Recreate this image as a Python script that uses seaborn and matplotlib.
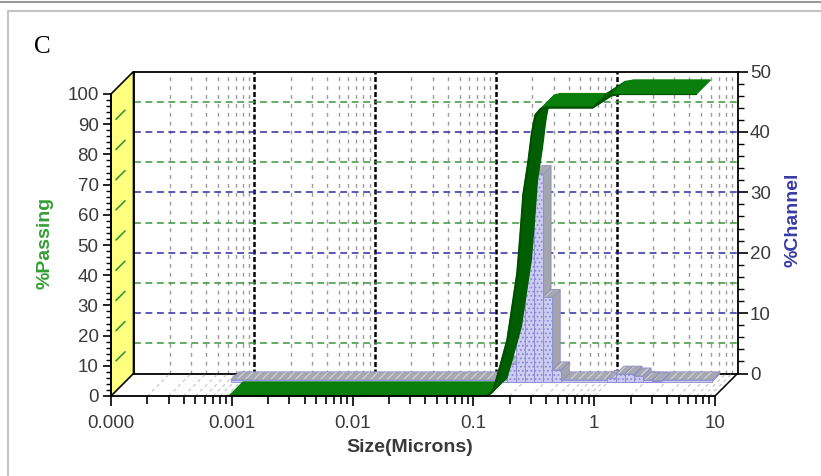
import matplotlib

matplotlib.use("Agg")

import numpy as np
import seaborn as sns
from matplotlib import pyplot as plt
from matplotlib.lines import Line2D
from matplotlib.patches import Polygon
from matplotlib.ticker import FixedFormatter, FixedLocator, MultipleLocator, NullFormatter
from matplotlib.transforms import IdentityTransform

# cumulative % passing (front edge of the green ribbon)
passing_size = [0.00095, 0.130, 0.145, 0.161, 0.191, 0.210, 0.231, 0.245, 0.259,
                0.285, 0.305, 0.326, 0.360, 0.400, 0.97, 1.16, 1.38, 1.64, 7.0]
passing_pct = [0.0, 0.0, 1.5, 7.6, 18.5, 29.5, 40.7, 53.3, 66.6,
               77.5, 87.0, 93.0, 95.0, 95.5, 95.5, 97.5, 99.5, 100.0, 100.0]

# % channel histogram, channel edges in microns
channel_lo = [0.145, 0.172, 0.204, 0.243, 0.289, 0.344, 0.972, 1.156, 1.375, 1.635, 1.945, 2.312]
channel_hi = [0.172, 0.204, 0.243, 0.289, 0.344, 0.409, 1.156, 1.375, 1.635, 1.945, 2.312, 2.750]
channel_pct = [3.0, 12.0, 30.0, 34.5, 14.0, 2.0, 0.6, 1.3, 1.3, 1.0, 0.3, 0.2]
channel_span = [0.00075, 7.2]  # empty channels lying on the floor

x_ticks = [1e-4, 1e-3, 1e-2, 1e-1, 1, 10]
x_tick_labels = ["0.000", "0.001", "0.01", "0.1", "1", "10"]
passing_grid = [10, 30, 50, 70, 90]
channel_grid = [10, 20, 30, 40]

W, H = 821, 476
DEPTH = 22.5          # pixel offset of the back wall
RIBBON_DEPTH = 14     # thickness of the cumulative ribbon
BAR_DEPTH = (14, 22)  # front / back of the histogram bars

GREEN = "#0A7E0A"
GREEN_DARK = "#005E00"
TEXT = "#3A3A3A"

sns.set_theme(style="white")
plt.rcParams["font.family"] = ["Liberation Sans", "DejaVu Sans"]
plt.rcParams["hatch.linewidth"] = 0.8

fig = plt.figure(figsize=(W / 100, H / 100), dpi=100)
fig.patch.set_facecolor("white")

box = [111 / W, (H - 396) / H, 604 / W, 302 / H]
ax_back = fig.add_axes([box[0] + DEPTH / W, box[1] + DEPTH / H, box[2], box[3]])
ax = fig.add_axes(box)
ax.set_zorder(2)
ax.patch.set_alpha(0)

for a in (ax, ax_back):
    a.set_xscale("log")
    a.set_xlim(x_ticks[0], x_ticks[-1])
ax.set_ylim(0, 100)
ax_back.set_ylim(0, 50)

minor_x = [m * d for d in x_ticks[:-1] for m in range(2, 10)]

# back wall grid
for x in x_ticks[1:-1]:
    ax_back.axvline(x, color="black", lw=1.8, ls=(0, (2.0, 1.0)), zorder=1)
for x in minor_x:
    ax_back.axvline(x, color="#9C9C9C", lw=1.0, ls=(0, (2.8, 3.6)), zorder=0.5)
for p in passing_grid:
    ax_back.axhline(p * 50 / 100, color="#3A963A", lw=1.1, ls=(0, (4.5, 3)), zorder=1)
for c in channel_grid:
    ax_back.axhline(c, color="#2C2CA0", lw=1.1, ls=(0, (4.5, 3)), zorder=1)

for side in ("top", "bottom", "left", "right"):
    ax_back.spines[side].set_visible(True)
    ax_back.spines[side].set_color("black")
    ax_back.spines[side].set_linewidth(1.3)
ax_back.yaxis.tick_right()
ax_back.yaxis.set_major_locator(MultipleLocator(10))
ax_back.yaxis.set_minor_locator(MultipleLocator(2))
ax_back.tick_params(axis="y", which="major", right=True, left=False, labelright=True,
                    labelleft=False, length=7, width=1.2, color="black",
                    labelsize=13.5, labelcolor=TEXT, pad=2)
ax_back.tick_params(axis="y", which="minor", right=True, left=False, length=4, width=1, color="black")
ax_back.tick_params(axis="x", which="both", bottom=False, labelbottom=False)
ax_back.grid(False)


def project(axis, xs, ys, shift):
    """Data points of an axis -> display pixels, pushed back by `shift` px."""
    pts = axis.transData.transform(np.column_stack([xs, ys]))
    return pts + shift


def face(pts, **kw):
    ax.add_patch(Polygon(pts, closed=True, transform=IdentityTransform(), clip_on=False, **kw))


def seg(p0, p1, **kw):
    ax.add_line(Line2D([p0[0], p1[0]], [p0[1], p1[1]], transform=IdentityTransform(),
                       clip_on=False, **kw))


# yellow side wall
x0 = x_ticks[0]
wf = project(ax, [x0, x0], [0, 100], 0)
wb = project(ax, [x0, x0], [0, 100], DEPTH)
face([wf[0], wf[1], wb[1], wb[0]], facecolor="#FFFF80", edgecolor="black", lw=1.2, zorder=1)
for p in range(10, 100, 10):
    seg(project(ax, [x0], [p], 5)[0], project(ax, [x0], [p], 14)[0],
        color="#3A963A", lw=1.2, zorder=1.2)

# floor depth lines and right edge
for x in minor_x + x_ticks[1:-1]:
    seg(project(ax, [x], [0], 0)[0], project(ax, [x], [0], DEPTH)[0],
        color="#C4C4C4", lw=0.8, ls=(0, (3, 3)), zorder=1.1)
seg(project(ax, [x_ticks[-1]], [0], 0)[0], project(ax, [x_ticks[-1]], [0], DEPTH)[0],
    color="black", lw=1.1, zorder=1.2)


def bar3d(lo, hi, h, zorder):
    d0, d1 = BAR_DEPTH[0] - DEPTH, BAR_DEPTH[1] - DEPTH
    fr = project(ax_back, [lo, hi, hi, lo], [0, 0, h, h], d0)
    bk = project(ax_back, [lo, hi, hi, lo], [0, 0, h, h], d1)
    face([fr[1], bk[1], bk[2], fr[2]], facecolor="#A4A4AE", edgecolor="#8C8CC4", lw=0.6, zorder=zorder)
    face([fr[3], fr[2], bk[2], bk[3]], facecolor="#A8A8B0", edgecolor="#D4D4DC", hatch="////",
         lw=0, zorder=zorder)
    face([fr[3], fr[2], bk[2], bk[3]], facecolor="none", edgecolor="#8C8CC4", lw=0.6, zorder=zorder)
    face(fr, facecolor="#CDCDF2", edgecolor="#8A8AD6", hatch="....", lw=0.6, zorder=zorder)


bar3d(channel_span[0], channel_span[1], 0.35, 2)
for i, (lo, hi, v) in enumerate(zip(channel_lo, channel_hi, channel_pct)):
    bar3d(lo, hi, v, 2 + i * 0.01)

# green cumulative ribbon
ff = project(ax, passing_size, passing_pct, 0)
fb = ff + RIBBON_DEPTH
for i in range(len(ff) - 1):
    dx, dy = ff[i + 1] - ff[i]
    col = GREEN_DARK if abs(dy) > 0.6 * abs(dx) else GREEN
    face([ff[i], ff[i + 1], fb[i + 1], fb[i]], facecolor=col, edgecolor=col, lw=1.0, zorder=4)
sns.lineplot(x=passing_size, y=passing_pct, ax=ax, color="#005000", lw=1.6, zorder=4.5)

# front axes
for side in ("top", "right"):
    ax.spines[side].set_visible(False)
for side in ("left", "bottom"):
    ax.spines[side].set_color("black")
    ax.spines[side].set_linewidth(1.3)
    ax.spines[side].set_zorder(5)
ax.yaxis.set_major_locator(MultipleLocator(10))
ax.yaxis.set_minor_locator(MultipleLocator(2))
ax.xaxis.set_major_locator(FixedLocator(x_ticks))
ax.xaxis.set_major_formatter(FixedFormatter(x_tick_labels))
ax.xaxis.set_minor_locator(FixedLocator(minor_x))
ax.xaxis.set_minor_formatter(NullFormatter())
ax.tick_params(axis="both", which="major", left=True, bottom=True, direction="out",
               width=1.2, color="black", labelsize=13.5, labelcolor=TEXT)
ax.tick_params(axis="y", which="major", length=6, pad=3)
ax.tick_params(axis="y", which="minor", left=True, length=3.5, width=1, color="black")
ax.tick_params(axis="x", which="major", length=7, pad=7)
ax.tick_params(axis="x", which="minor", bottom=True, length=6, width=1.2, color="black")
ax.grid(False)
ax.set_xlabel("")
ax.set_ylabel("")

fig.text(42 / W, 1 - 47 / H, "C", family=["Liberation Serif", "DejaVu Serif"], size=18,
         ha="center", va="center", color="black")
fig.text(45 / W, 1 - 243 / H, "%Passing", rotation=90, color="#33A033", weight="bold",
         size=14, ha="center", va="center")
fig.text(793 / W, 1 - 220 / H, "%Channel", rotation=90, color="#3A3AA8", weight="bold",
         size=14, ha="center", va="center")
fig.text(410 / W, 1 - 447 / H, "Size(Microns)", color=TEXT, weight="bold", size=14,
         ha="center", va="center")

# picture frame
fig.add_artist(Line2D([0, 1], [1 - 1.5 / H] * 2, transform=fig.transFigure, color="#9A9A9A", lw=1.5))
fig.add_artist(Line2D([8 / W, 8 / W], [0, 1 - 11 / H], transform=fig.transFigure, color="#C4C4C4", lw=1.5))
fig.add_artist(Line2D([8 / W, 1], [1 - 11 / H] * 2, transform=fig.transFigure, color="#C4C4C4", lw=1.5))

fig.savefig("out.png", dpi=100)
